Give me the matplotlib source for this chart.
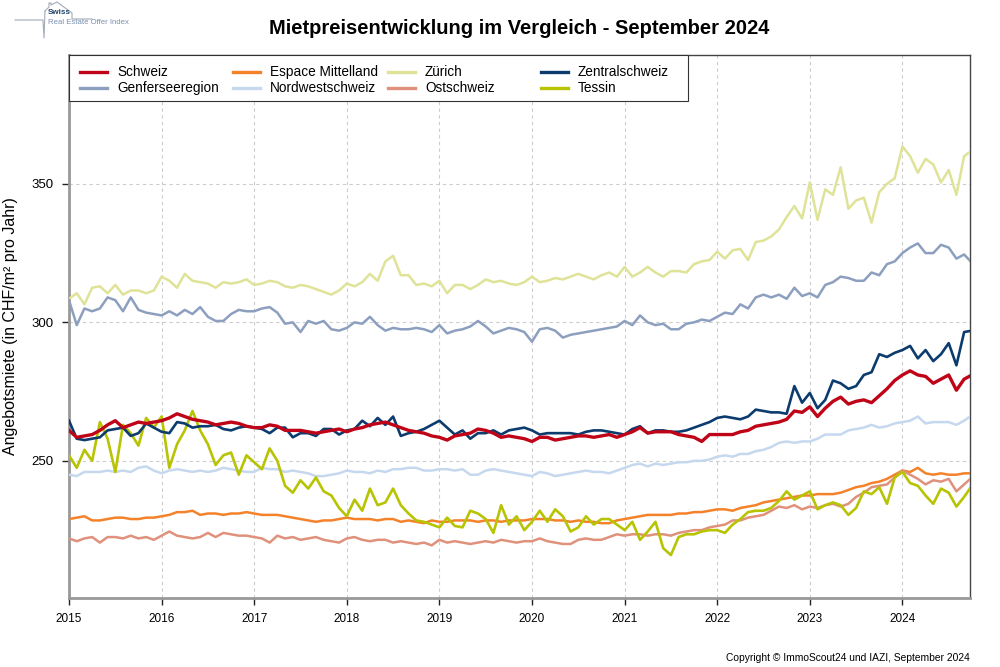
import numpy as np
import matplotlib
matplotlib.use("Agg")
import matplotlib.pyplot as plt
from matplotlib.patches import Rectangle
from matplotlib.lines import Line2D

plt.rcParams['font.family'] = ['Liberation Sans', 'DejaVu Sans']

# monthly values, Jan 2015 .. Sep 2024 (CHF/m2 pro Jahr)
schweiz = [261, 258.5, 259, 259.5, 261, 263, 264.5, 262, 263, 264, 263.5, 264, 264.5, 265.5, 267, 266, 265, 264.5, 264, 263,
           263.5, 264, 263.5, 262.5, 262, 262, 263, 262.5, 261, 261, 261, 260.5, 260, 260.5, 261, 261.5, 260.5, 261.5, 262, 263,
           263.5, 264, 263, 262, 261, 260.5, 260, 259, 258.5, 257.5, 259, 259.5, 260, 261.5, 261, 260, 258.5, 259, 258.5, 258,
           257, 258.5, 258.5, 257.5, 258, 258.5, 259, 259, 258.5, 259, 259.5, 258.5, 259.5, 260.5, 262, 260, 260.5, 260.5, 260.5, 259.5,
           259, 258.5, 257, 259.5, 259.5, 259.5, 259.5, 260.5, 261, 262.5, 263, 263.5, 264, 265, 268, 267.5, 269.5, 266, 269, 271.5,
           273, 270.5, 271.5, 272, 271, 273.5, 276, 279, 281, 282.5, 281, 280.5, 278, 279.5, 281, 275.5, 279.5, 281]
genf = [308, 299, 305, 304, 305, 309, 308, 304, 309, 304.5, 303.5, 303, 302.5, 304, 302.5, 304.5, 303, 305.5, 302, 300.5,
        300.5, 303, 304.5, 304, 304, 305, 305.5, 303.5, 299.5, 300, 296.5, 300.5, 299.5, 300.5, 297.5, 297, 298, 300, 299.5, 302,
        299, 297, 298, 297.5, 297.5, 298, 297.5, 296.5, 299, 296, 297, 297.5, 298.5, 300.5, 298.5, 296, 297, 298, 297.5, 296.5,
        293, 297.5, 298, 297, 294.5, 295.5, 296, 296.5, 297, 297.5, 298, 298.5, 300.5, 299, 302.5, 300, 299, 299.5, 297.5, 297.5,
        299.5, 300, 301, 300.5, 302, 303.5, 303, 306.5, 305, 309, 310, 309, 310, 308.5, 312.5, 309.5, 310.5, 309, 313.5, 314.5,
        316.5, 316, 315, 315, 318, 317, 321, 322, 325, 327, 328.5, 325, 325, 328, 327, 323, 324.5, 321.5]
espace = [229, 229.5, 230, 228.5, 228.5, 229, 229.5, 229.5, 229, 229, 229.5, 229.5, 230, 230.5, 231.5, 231.5, 232, 230.5, 231, 231,
          230.5, 231, 231, 231.5, 231, 230.5, 230.5, 230.5, 230, 229.5, 229, 228.5, 228, 228.5, 228.5, 229, 229.5, 229, 229, 229,
          228.5, 229, 229, 228, 228.5, 228, 227.5, 228.5, 228, 228, 228.5, 228.5, 228.5, 228, 228.5, 228.5, 228, 228.5, 228.5, 228.5,
          229, 229, 229, 228.5, 228.5, 228, 228.5, 228, 228, 227.5, 227.5, 228.5, 229, 229.5, 230, 230.5, 230.5, 230.5, 230.5, 231,
          231, 231.5, 231.5, 232, 232.5, 232.5, 232, 233, 233.5, 234, 235, 235.5, 236, 236.5, 237, 237.5, 237.5, 238, 238, 238,
          238.5, 239.5, 240.5, 241, 242, 242.5, 243.5, 245, 246.5, 246, 247.5, 245.5, 245, 245.5, 245, 245, 245.5, 245.5]
nordwest = [245, 244.5, 246, 246, 246, 246.5, 246, 246.5, 246, 247.5, 248, 246.5, 245.5, 246.5, 247, 246.5, 246, 246.5, 246, 246.5,
            247.5, 247, 246.5, 246, 246, 247.5, 247, 247, 246, 246.5, 246, 245.5, 244.5, 244.5, 245, 245.5, 246.5, 246, 246, 245.5,
            246.5, 246, 247, 247, 247.5, 247.5, 246.5, 246.5, 247, 247, 246.5, 247, 245, 245, 246.5, 247, 246.5, 246, 245.5, 245,
            244.5, 246, 245.5, 244.5, 245, 245.5, 246, 246.5, 246, 246, 245.5, 246.5, 247.5, 248.5, 249, 248, 249, 248.5, 249, 249.5,
            249.5, 250, 250, 250.5, 251.5, 252, 251.5, 252.5, 252.5, 253.5, 254, 255, 256.5, 257, 256.5, 257, 257, 258, 259.5, 259.5,
            259.5, 261, 261.5, 262, 263, 262, 262.5, 263.5, 264, 264.5, 266, 263.5, 264, 264, 264, 263, 264.5, 266.5]
zuerich = [308.5, 310.5, 306.5, 312.5, 313, 310.5, 313.5, 310, 311.5, 311.5, 310.5, 311.5, 316.5, 315, 312.5, 317.5, 315, 314.5, 314, 312.5,
           314.5, 314, 314.5, 315.5, 313.5, 314, 315, 314.5, 313, 312.5, 313.5, 313, 312, 311, 310, 311.5, 314, 313, 314.5, 317.5,
           315, 322, 324, 317, 317, 313.5, 314, 313, 315, 310.5, 313.5, 313.5, 312, 313.5, 315.5, 314.5, 315, 314, 313.5, 314.5,
           316.5, 314.5, 315, 316, 315.5, 316.5, 317.5, 316.5, 315.5, 317, 318, 316.5, 320, 316.5, 318, 320, 318, 316.5, 318.5, 318.5,
           318, 321, 322, 322.5, 325.5, 323, 326, 326.5, 322.5, 329, 329.5, 331, 333.5, 338, 342, 337.5, 350.5, 337, 348, 346,
           356, 341, 344, 345, 336, 347, 350, 352, 363.5, 360, 354, 359, 357, 350.5, 355, 346, 360, 362]
ost = [222, 221, 222, 222.5, 220.5, 222.5, 222.5, 222, 223, 222, 222.5, 221.5, 223, 224.5, 223, 222.5, 222, 222.5, 224, 222.5,
       224, 223.5, 223, 223, 222.5, 222, 220.5, 223, 222, 222.5, 221.5, 222, 222.5, 221.5, 221, 220.5, 222, 222.5, 221.5, 221,
       221.5, 221.5, 220.5, 221, 220.5, 220, 220.5, 219.5, 221.5, 220.5, 221, 220.5, 220, 220.5, 221, 220.5, 221.5, 221, 220.5, 221,
       221, 222, 221, 220.5, 220, 220, 221.5, 222, 221.5, 221.5, 222.5, 223.5, 223, 223.5, 223.5, 223, 223.5, 223.5, 223, 224,
       224.5, 225, 225, 226, 226.5, 227, 228.5, 228.5, 229.5, 230, 230.5, 232, 233.5, 233, 234, 232.5, 233.5, 233, 234, 234.5,
       233.5, 234.5, 237, 238.5, 240.5, 241, 241.5, 244, 246.5, 245, 243.5, 241.5, 243, 242.5, 243.5, 239, 241.5, 244]
zentral = [264.5, 258, 257.5, 258, 258.5, 261, 261.5, 262, 259, 260, 263.5, 262, 260.5, 260, 264, 263.5, 262, 262.5, 262.5, 263,
           261.5, 261, 262, 262.5, 262, 261.5, 260, 262, 262, 258.5, 260, 260, 259, 261.5, 261.5, 259.5, 261, 261.5, 264.5, 262.5,
           265.5, 263, 266, 259, 260, 260.5, 261.5, 263, 264.5, 262, 259.5, 261, 258, 260, 260, 261, 259.5, 261, 261.5, 262,
           261, 259.5, 260, 260, 260, 260, 259.5, 260.5, 261, 261, 260.5, 260, 259.5, 261.5, 262.5, 260, 261, 261, 260.5, 260.5,
           261, 262, 263, 264, 265.5, 266, 265.5, 265, 266, 268.5, 268, 267.5, 267.5, 267, 277, 271, 274.5, 269, 272, 279,
           278, 276, 277, 281, 282, 288.5, 287.5, 289, 290, 291.5, 287, 290, 286, 288.5, 292.5, 284.5, 296.5, 297]
tessin = [252, 247.5, 254, 250, 264, 258, 246, 263, 260, 255.5, 265.5, 262, 266, 247.5, 256, 261, 268, 261, 256, 248.5,
          252, 253, 245, 252, 249.5, 247, 254.5, 250, 241, 238.5, 243, 240, 244, 239, 237.5, 233, 230, 236, 232, 240,
          234, 235, 240, 234, 231, 228.5, 228, 227, 226, 229.5, 226.5, 226, 232, 231, 229, 224, 234, 227, 230, 225,
          228, 232, 228, 232.5, 230, 224.5, 226, 230, 227, 229, 229, 227, 225, 228, 221.5, 224.5, 228, 218.5, 216, 222.5,
          223.5, 223.5, 224.5, 225, 225, 224, 227, 229, 231.5, 232, 232, 233, 235.5, 239, 236, 237.5, 239, 232.5, 234, 235,
          234, 230.5, 233, 239, 238, 240.5, 234.5, 244, 246, 242, 241, 237.5, 234.5, 240, 238.5, 233.5, 237, 241]

regions = ["Schweiz", "Genferseeregion", "Espace Mittelland", "Nordwestschweiz",
           "Zürich", "Ostschweiz", "Zentralschweiz", "Tessin"]
values = [schweiz, genf, espace, nordwest, zuerich, ost, zentral, tessin]
colors = ["#c00418", "#8d9fbf", "#f4822a", "#c6d8ee", "#dfe398", "#e0917c", "#0c3b6e", "#b7c303"]
widths = [2.4, 1.8, 1.8, 1.8, 1.8, 1.8, 1.9, 1.9]
years = list(range(2015, 2025))
yticks = [250, 300, 350]

W, H = 1000, 667


def fx(px):
    return px / W


def fy(py):
    return 1 - py / H


fig = plt.figure(figsize=(10, 6.67), dpi=100)
ax = fig.add_axes([fx(69), fy(598), fx(970) - fx(69), fy(55) - fy(598)])

# draw order: background series first, Schweiz on top
order = [4, 1, 3, 2, 5, 7, 6, 0]
for k in order:
    y = values[k]
    x = 2015 + np.arange(len(y)) / 12
    ax.plot(x, y, color=colors[k], lw=widths[k], solid_joinstyle='round', zorder=3 + (k == 0))

ax.set_xlim(2015, 2024.73)
ax.set_ylim(200.5, 396.5)
ax.set_xticks(years)
ax.set_xticklabels([str(y) for y in years], fontsize=8.5)
ax.set_yticks(yticks)
ax.set_yticklabels([str(t) for t in yticks], fontsize=9.5)
ax.tick_params(direction='out', length=5, width=1, color='#222222', pad=6)
ax.grid(True, color='#cccccc', lw=0.8, ls=(0, (3, 3)))
ax.set_axisbelow(True)
for s in ['left', 'bottom']:
    ax.spines[s].set_color('#999999')
    ax.spines[s].set_linewidth(2)
for s in ['top', 'right']:
    ax.spines[s].set_color('#444444')
    ax.spines[s].set_linewidth(1)

ax.set_ylabel("Angebotsmiete (in CHF/m² pro Jahr)", fontsize=11.5)
ax.yaxis.set_label_coords((18 - 69) / 901, 0.5)

# legend: four equal-width columns like the original
fig.patches.append(Rectangle((fx(69), fy(101)), fx(688) - fx(69), fy(55) - fy(101),
                             transform=fig.transFigure, facecolor='white',
                             edgecolor='#333333', lw=0.8, zorder=5))
col_x = [80, 233, 388, 541]
row_y = [72, 88]
for k, name in enumerate(regions):
    c, r = divmod(k, 2)
    lx, ly = col_x[c], row_y[r]
    fig.lines.append(Line2D([fx(lx), fx(lx + 27)], [fy(ly), fy(ly)], color=colors[k], lw=2.4,
                            transform=fig.transFigure, zorder=6))
    fig.text(fx(lx + 37), fy(ly), name, fontsize=9.8, va='center', ha='left', zorder=6)

fig.text(0.5195, fy(28), "Mietpreisentwicklung im Vergleich - September 2024",
         ha='center', va='center', fontsize=14.5, fontweight='bold')
fig.text(fx(970), fy(658), "Copyright © ImmoScout24 und IAZI, September 2024",
         ha='right', va='center', fontsize=7.4)

# small logo top left (pixel coordinates)
logo = fig.add_axes([0, fy(50), fx(140), fy(0) - fy(50)])
logo.set_xlim(0, 140)
logo.set_ylim(50, 0)
logo.axis('off')
gray = '#a3abb6'
logo.plot([15, 43, 44, 45], [20, 20, 38, 11], color=gray, lw=0.8)
logo.plot([45, 49, 49, 51, 51, 57, 72, 72, 92], [11, 7, 3, 3, 5, 2, 13, 19, 19], color=gray, lw=0.8)
logo.text(48, 13, "Swiss", fontsize=5.8, fontweight='bold', color='#23436b', va='center')
logo.text(48, 22, "Real Estate Offer Index", fontsize=5.6, color='#7890b0', va='center')

fig.savefig("out.png", dpi=100)
